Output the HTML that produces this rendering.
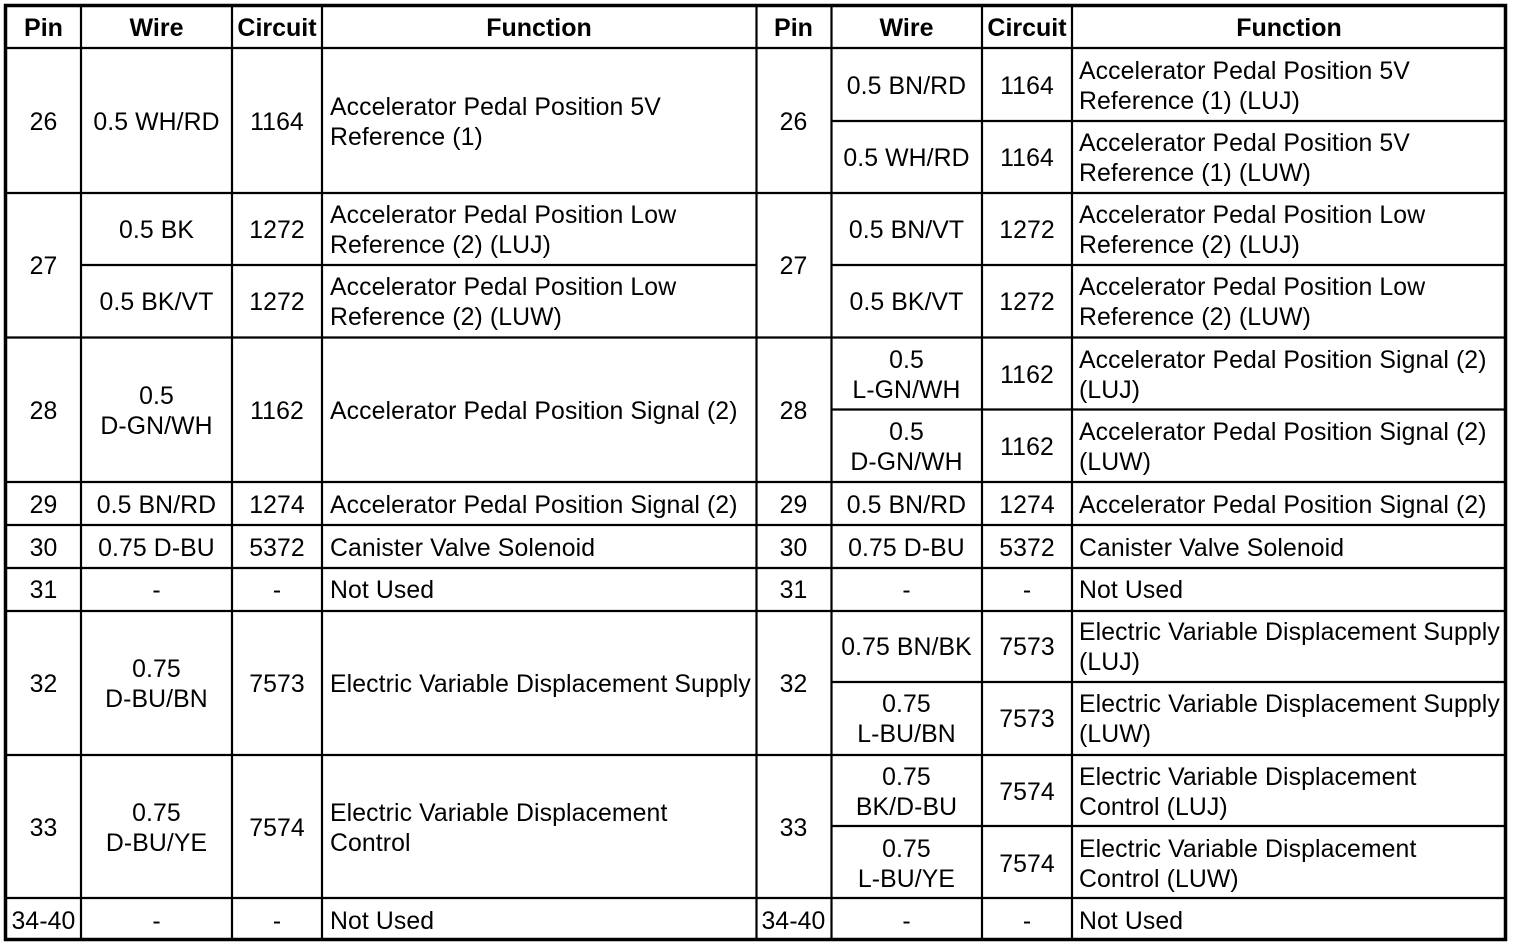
<!DOCTYPE html>
<html><head><meta charset="utf-8"><style>
html,body{margin:0;padding:0;background:#fff;width:1520px;height:948px;overflow:hidden}
svg text{font-family:"Liberation Sans",Arial,sans-serif;font-size:24.8px;letter-spacing:0.1px;fill:#000}
.h{font-weight:bold;font-size:25px;letter-spacing:0}
.c{text-anchor:middle}
</style></head><body>
<svg width="1520" height="948" xmlns="http://www.w3.org/2000/svg">
<g stroke="#000" stroke-width="2.2" fill="none">
<rect x="5.5" y="5.5" width="1500" height="934" stroke-width="3.5"/>
<line x1="81" y1="5" x2="81" y2="940"/>
<line x1="232" y1="5" x2="232" y2="940"/>
<line x1="322" y1="5" x2="322" y2="940"/>
<line x1="756.5" y1="5" x2="756.5" y2="940"/>
<line x1="831.5" y1="5" x2="831.5" y2="940"/>
<line x1="982" y1="5" x2="982" y2="940"/>
<line x1="1072" y1="5" x2="1072" y2="940"/>
<line x1="5" y1="48" x2="1506" y2="48"/>
<line x1="5" y1="193" x2="1506" y2="193"/>
<line x1="5" y1="337.5" x2="1506" y2="337.5"/>
<line x1="5" y1="482" x2="1506" y2="482"/>
<line x1="5" y1="525" x2="1506" y2="525"/>
<line x1="5" y1="568" x2="1506" y2="568"/>
<line x1="5" y1="611" x2="1506" y2="611"/>
<line x1="5" y1="755" x2="1506" y2="755"/>
<line x1="5" y1="898" x2="1506" y2="898"/>
<line x1="81" y1="265" x2="756" y2="265"/>
<line x1="831" y1="121" x2="1506" y2="121"/>
<line x1="831" y1="265" x2="1506" y2="265"/>
<line x1="831" y1="409.5" x2="1506" y2="409.5"/>
<line x1="831" y1="682" x2="1506" y2="682"/>
<line x1="831" y1="826" x2="1506" y2="826"/>
</g>
<text class="h c" x="43.5" y="36">Pin</text>
<text class="h c" x="156.5" y="36">Wire</text>
<text class="h c" x="277" y="36">Circuit</text>
<text class="h c" x="539" y="36">Function</text>
<text class="h c" x="793.5" y="36">Pin</text>
<text class="h c" x="906.5" y="36">Wire</text>
<text class="h c" x="1027" y="36">Circuit</text>
<text class="h c" x="1289" y="36">Function</text>

<text class="c" x="43.5" y="130">26</text>
<text class="c" x="156.5" y="130">0.5 WH/RD</text>
<text class="c" x="277" y="130">1164</text>
<text x="330" y="115">Accelerator Pedal Position 5V</text>
<text x="330" y="145">Reference (1)</text>

<text class="c" x="43.5" y="274">27</text>
<text class="c" x="156.5" y="238">0.5 BK</text>
<text class="c" x="277" y="238">1272</text>
<text x="330" y="223">Accelerator Pedal Position Low</text>
<text x="330" y="253">Reference (2) (LUJ)</text>
<text class="c" x="156.5" y="310">0.5 BK/VT</text>
<text class="c" x="277" y="310">1272</text>
<text x="330" y="295">Accelerator Pedal Position Low</text>
<text x="330" y="325">Reference (2) (LUW)</text>

<text class="c" x="43.5" y="419">28</text>
<text class="c" x="156.5" y="404">0.5</text>
<text class="c" x="156.5" y="434">D-GN/WH</text>
<text class="c" x="277" y="419">1162</text>
<text x="330" y="419">Accelerator Pedal Position Signal (2)</text>

<text class="c" x="43.5" y="513">29</text>
<text class="c" x="156.5" y="513">0.5 BN/RD</text>
<text class="c" x="277" y="513">1274</text>
<text x="330" y="513">Accelerator Pedal Position Signal (2)</text>

<text class="c" x="43.5" y="556">30</text>
<text class="c" x="156.5" y="556">0.75 D-BU</text>
<text class="c" x="277" y="556">5372</text>
<text x="330" y="556">Canister Valve Solenoid</text>

<text class="c" x="43.5" y="598">31</text>
<text class="c" x="156.5" y="598">-</text>
<text class="c" x="277" y="598">-</text>
<text x="330" y="598">Not Used</text>

<text class="c" x="43.5" y="692">32</text>
<text class="c" x="156.5" y="677">0.75</text>
<text class="c" x="156.5" y="707">D-BU/BN</text>
<text class="c" x="277" y="692">7573</text>
<text x="330" y="692">Electric Variable Displacement Supply</text>

<text class="c" x="43.5" y="836">33</text>
<text class="c" x="156.5" y="821">0.75</text>
<text class="c" x="156.5" y="851">D-BU/YE</text>
<text class="c" x="277" y="836">7574</text>
<text x="330" y="821">Electric Variable Displacement</text>
<text x="330" y="851">Control</text>

<text class="c" x="43.5" y="929">34-40</text>
<text class="c" x="156.5" y="929">-</text>
<text class="c" x="277" y="929">-</text>
<text x="330" y="929">Not Used</text>

<text class="c" x="793.5" y="130">26</text>
<text class="c" x="906.5" y="94">0.5 BN/RD</text>
<text class="c" x="1027" y="94">1164</text>
<text x="1079" y="79">Accelerator Pedal Position 5V</text>
<text x="1079" y="109">Reference (1) (LUJ)</text>
<text class="c" x="906.5" y="166">0.5 WH/RD</text>
<text class="c" x="1027" y="166">1164</text>
<text x="1079" y="151">Accelerator Pedal Position 5V</text>
<text x="1079" y="181">Reference (1) (LUW)</text>

<text class="c" x="793.5" y="274">27</text>
<text class="c" x="906.5" y="238">0.5 BN/VT</text>
<text class="c" x="1027" y="238">1272</text>
<text x="1079" y="223">Accelerator Pedal Position Low</text>
<text x="1079" y="253">Reference (2) (LUJ)</text>
<text class="c" x="906.5" y="310">0.5 BK/VT</text>
<text class="c" x="1027" y="310">1272</text>
<text x="1079" y="295">Accelerator Pedal Position Low</text>
<text x="1079" y="325">Reference (2) (LUW)</text>

<text class="c" x="793.5" y="419">28</text>
<text class="c" x="906.5" y="368">0.5</text>
<text class="c" x="906.5" y="398">L-GN/WH</text>
<text class="c" x="1027" y="383">1162</text>
<text x="1079" y="368">Accelerator Pedal Position Signal (2)</text>
<text x="1079" y="398">(LUJ)</text>
<text class="c" x="906.5" y="440">0.5</text>
<text class="c" x="906.5" y="470">D-GN/WH</text>
<text class="c" x="1027" y="455">1162</text>
<text x="1079" y="440">Accelerator Pedal Position Signal (2)</text>
<text x="1079" y="470">(LUW)</text>

<text class="c" x="793.5" y="513">29</text>
<text class="c" x="906.5" y="513">0.5 BN/RD</text>
<text class="c" x="1027" y="513">1274</text>
<text x="1079" y="513">Accelerator Pedal Position Signal (2)</text>

<text class="c" x="793.5" y="556">30</text>
<text class="c" x="906.5" y="556">0.75 D-BU</text>
<text class="c" x="1027" y="556">5372</text>
<text x="1079" y="556">Canister Valve Solenoid</text>

<text class="c" x="793.5" y="598">31</text>
<text class="c" x="906.5" y="598">-</text>
<text class="c" x="1027" y="598">-</text>
<text x="1079" y="598">Not Used</text>

<text class="c" x="793.5" y="692">32</text>
<text class="c" x="906.5" y="655">0.75 BN/BK</text>
<text class="c" x="1027" y="655">7573</text>
<text x="1079" y="640">Electric Variable Displacement Supply</text>
<text x="1079" y="670">(LUJ)</text>
<text class="c" x="906.5" y="712">0.75</text>
<text class="c" x="906.5" y="742">L-BU/BN</text>
<text class="c" x="1027" y="727">7573</text>
<text x="1079" y="712">Electric Variable Displacement Supply</text>
<text x="1079" y="742">(LUW)</text>

<text class="c" x="793.5" y="836">33</text>
<text class="c" x="906.5" y="785">0.75</text>
<text class="c" x="906.5" y="815">BK/D-BU</text>
<text class="c" x="1027" y="800">7574</text>
<text x="1079" y="785">Electric Variable Displacement</text>
<text x="1079" y="815">Control (LUJ)</text>
<text class="c" x="906.5" y="857">0.75</text>
<text class="c" x="906.5" y="887">L-BU/YE</text>
<text class="c" x="1027" y="872">7574</text>
<text x="1079" y="857">Electric Variable Displacement</text>
<text x="1079" y="887">Control (LUW)</text>

<text class="c" x="793.5" y="929">34-40</text>
<text class="c" x="906.5" y="929">-</text>
<text class="c" x="1027" y="929">-</text>
<text x="1079" y="929">Not Used</text>
</svg>
</body></html>
